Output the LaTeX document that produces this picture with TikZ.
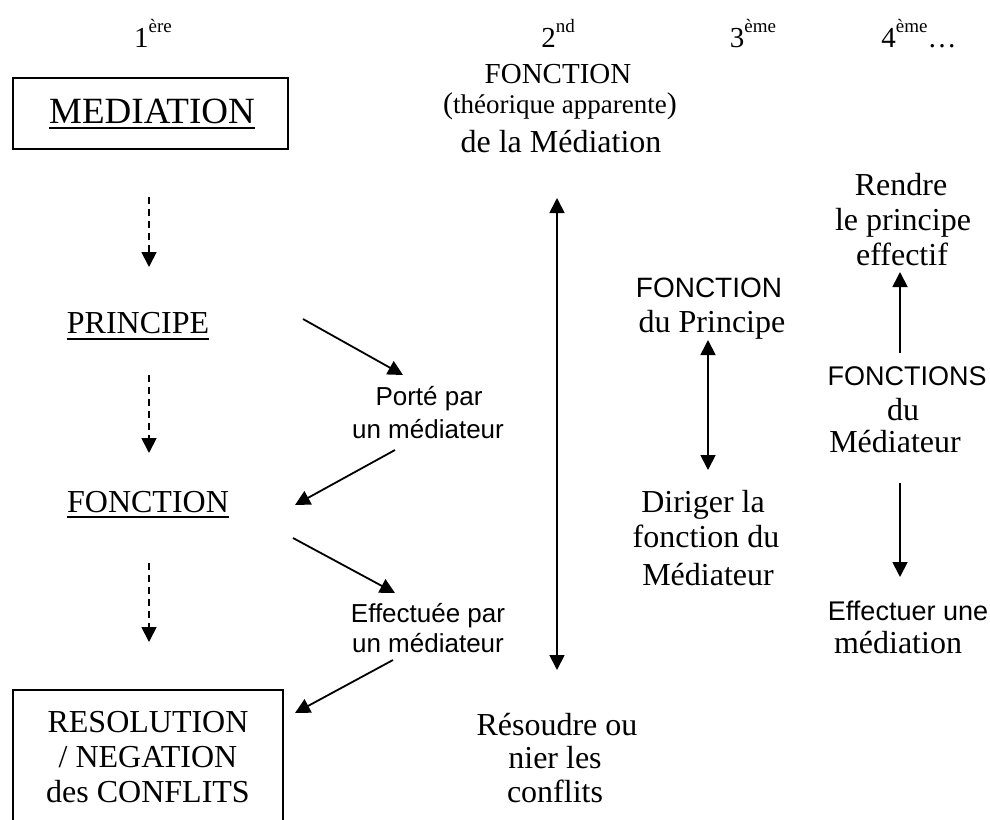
\documentclass[tikz,border=0pt]{standalone}
\usepackage{fontspec}
\setmainfont{Liberation Serif}
\setsansfont{Liberation Sans}
\usetikzlibrary{arrows.meta}
\newcommand{\supx}[1]{\raisebox{15pt}{\fontsize{19}{20}\selectfont #1}}
\begin{document}
\begin{tikzpicture}[x=1pt,y=-1pt,
  tm/.style={font=\fontsize{32}{36}\selectfont, inner sep=0pt, anchor=base},
  hd/.style={font=\fontsize{29}{33}\selectfont, inner sep=0pt, anchor=base},
  sf/.style={font=\sffamily\fontsize{26}{30}\selectfont, inner sep=0pt, anchor=base},
  sfb/.style={font=\sffamily\fontsize{27}{30}\selectfont, inner sep=0pt, anchor=base},
  box/.style={draw, line width=1.8pt},
  ul/.style={line width=2pt},
  arr/.style={line width=1.8pt, -{Triangle[width=15pt,length=15pt]}},
  darr/.style={line width=1.8pt, {Triangle[width=15pt,length=15pt]}-{Triangle[width=15pt,length=15pt]}},
  dsh/.style={arr, dash pattern=on 7pt off 5pt}]
\useasboundingbox (0,0) rectangle (990,819);
\clip (0,0) rectangle (990,819);

% headers
\node[hd] (h1) at (153,47) {1\supx{ère}};
\node[hd] (h2) at (558,47) {2\supx{nd}};
\node[hd] (h3) at (753,47) {3\supx{ème}};
\node[hd] (h4) at (919,47) {4\supx{ème}…};

% column 1
\draw[box] (13,78) rectangle (288,149);
\node[font=\fontsize{37}{40}\selectfont, inner sep=0pt, anchor=base] (med) at (152,123) {MEDIATION};
\draw[ul] ([yshift=-5pt]med.base west) -- ([yshift=-5pt]med.base east);

\node[tm] (prin) at (138,333) {PRINCIPE};
\draw[ul] ([yshift=-6pt]prin.base west) -- ([yshift=-6pt]prin.base east);

\node[tm] (fonc) at (148,512) {FONCTION};
\draw[ul] ([yshift=-5pt]fonc.base west) -- ([yshift=-5pt]fonc.base east);

\draw[box] (13,690) rectangle (283,840);
\node[tm] (res1) at (148,732) {RESOLUTION};
\node[tm] (res2) at (148,767) {/ NEGATION};
\node[tm] (res3) at (148,802) {des CONFLITS};

\coordinate (d1a) at (149,197); \coordinate (d1b) at (149,267);
\coordinate (d2a) at (149,375); \coordinate (d2b) at (149,453);
\coordinate (d3a) at (149,563); \coordinate (d3b) at (149,642);
\draw[dsh] (d1a) -- (d1b);
\draw[dsh] (d2a) -- (d2b);
\draw[dsh] (d3a) -- (d3b);

% mediator labels
\node[sf] (por1) at (429,405) {Porté par};
\node[sf] (por2) at (428,438) {un médiateur};
\node[sf] (eff1) at (428,622) {Effectuée par};
\node[sf] (eff2) at (428,652) {un médiateur};

\coordinate (a1s) at (303,319); \coordinate (a1e) at (403,375);
\coordinate (a2s) at (395,450); \coordinate (a2e) at (295,505);
\coordinate (a3s) at (293,538); \coordinate (a3e) at (395,593);
\coordinate (a4s) at (393,660); \coordinate (a4e) at (295,713);
\draw[arr] (a1s) -- (a1e);
\draw[arr] (a2s) -- (a2e);
\draw[arr] (a3s) -- (a3e);
\draw[arr] (a4s) -- (a4e);

% column 2
\node[hd] (f2a) at (558,83) {FONCTION};
\node[inner sep=0pt, anchor=base] (f2b) at (560,113) {{\fontsize{30}{34}\selectfont(}{\fontsize{27}{30}\selectfont théorique apparente}{\fontsize{30}{34}\selectfont)}};
\node[tm] (f2c) at (561,152) {de la Médiation};
\node[tm] (r2a) at (557,735) {Résoudre ou};
\node[tm] (r2b) at (555,768) {nier les};
\node[tm] (r2c) at (555,802) {conflits};
\coordinate (c2t) at (557,198); \coordinate (c2b) at (557,670);
\draw[darr] (c2t) -- (c2b);

% column 3
\node[sfb, font=\sffamily\fontsize{28}{30}\selectfont] (f3a) at (709,297) {FONCTION};
\node[tm] (f3b) at (712,332) {du Principe};
\node[tm] (g3a) at (703,512) {Diriger la};
\node[tm] (g3b) at (706,547) {fonction du};
\node[tm] (g3c) at (708,585) {Médiateur};
\coordinate (c3t) at (708,340); \coordinate (c3b) at (708,470);
\draw[darr] (c3t) -- (c3b);

% column 4
\node[tm] (r4a) at (901,195) {Rendre};
\node[tm] (r4b) at (903,230) {le principe};
\node[tm] (r4c) at (902,265) {effectif};
\node[sfb] (m4a) at (907,385) {FONCTIONS};
\node[tm] (m4b) at (903,420) {du};
\node[tm] (m4c) at (895,452) {Médiateur};
\node[sfb] (e4a) at (908,620) {Effectuer une};
\node[tm] (e4b) at (898,653) {médiation};
\coordinate (u4s) at (900,353); \coordinate (u4e) at (900,272);
\coordinate (w4s) at (900,483); \coordinate (w4e) at (900,577);
\draw[arr] (u4s) -- (u4e);
\draw[arr] (w4s) -- (w4e);
\end{tikzpicture}
\end{document}
